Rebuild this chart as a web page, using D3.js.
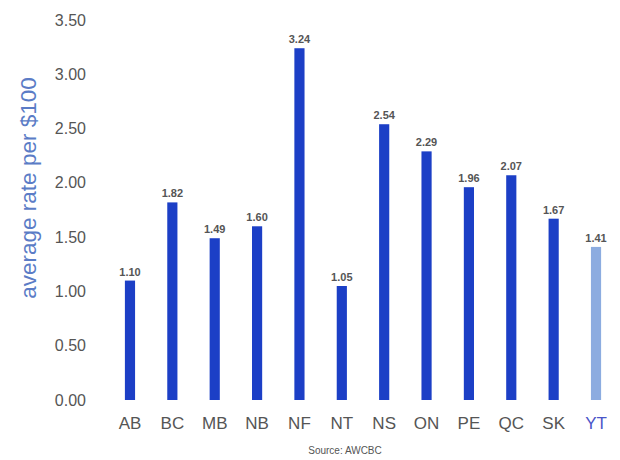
<!DOCTYPE html>
<html><head><meta charset="utf-8">
<script src="https://cdn.jsdelivr.net/npm/d3@7"></script>
<style>body{margin:0;background:#fff}svg{display:block}</style>
</head><body>
<svg id="c" width="620" height="460"></svg>
<script>
const categories = ["AB","BC","MB","NB","NF","NT","NS","ON","PE","QC","SK","YT"];
const values = [1.10,1.82,1.49,1.60,3.24,1.05,2.54,2.29,1.96,2.07,1.67,1.41];
const valueLabels = ["1.10","1.82","1.49","1.60","3.24","1.05","2.54","2.29","1.96","2.07","1.67","1.41"];
const yTicks = [0,0.5,1,1.5,2,2.5,3,3.5];
const highlight = ["YT"];

const svg = d3.select("#c");
const x = d3.scaleBand().domain(categories).range([108.8,617.2]).paddingInner(0.76).paddingOuter(0.38);
const y = d3.scaleLinear().domain([0,3.5]).range([400,20]);

const yAxis = d3.axisLeft(y).tickValues(yTicks).tickFormat(d3.format(".2f")).tickSize(0).tickPadding(0);
const ga = svg.append("g").attr("transform","translate(86,0)").call(yAxis);
ga.select(".domain").remove();
ga.selectAll("text").attr("font-family","Liberation Sans, Arial, sans-serif").attr("font-size",16).attr("fill","#555");

const xAxis = d3.axisBottom(x).tickSize(0).tickPadding(0);
const gx = svg.append("g").attr("transform","translate(0,417)").call(xAxis);
gx.select(".domain").remove();
gx.selectAll("text").attr("font-family","Liberation Sans, Arial, sans-serif").attr("font-size",17)
  .attr("fill",d=>highlight.includes(d)?"#4a55c8":"#555");

svg.append("g").selectAll("rect").data(categories).join("rect")
  .attr("x",d=>x(d)).attr("width",x.bandwidth())
  .attr("y",(d,i)=>y(values[i])).attr("height",(d,i)=>y(0)-y(values[i]))
  .attr("fill",d=>highlight.includes(d)?"#8cace0":"#1c3fc6");

svg.append("g").selectAll("text").data(categories).join("text")
  .attr("x",d=>x(d)+x.bandwidth()/2).attr("y",(d,i)=>y(values[i])-5)
  .attr("text-anchor","middle").attr("font-family","Liberation Sans, Arial, sans-serif")
  .attr("font-size",11).attr("font-weight","bold").attr("fill","#555")
  .text((d,i)=>valueLabels[i]);

svg.append("text").attr("transform","translate(36,188) rotate(-90)").attr("text-anchor","middle")
  .attr("font-family","Liberation Sans, Arial, sans-serif").attr("font-size",22.5).attr("fill","#5b7cc6")
  .text("average rate per $100");

svg.append("text").attr("x",345).attr("y",454).attr("text-anchor","middle")
  .attr("font-family","Liberation Sans, Arial, sans-serif").attr("font-size",10).attr("fill","#555")
  .text("Source: AWCBC");
</script>
</body></html>
